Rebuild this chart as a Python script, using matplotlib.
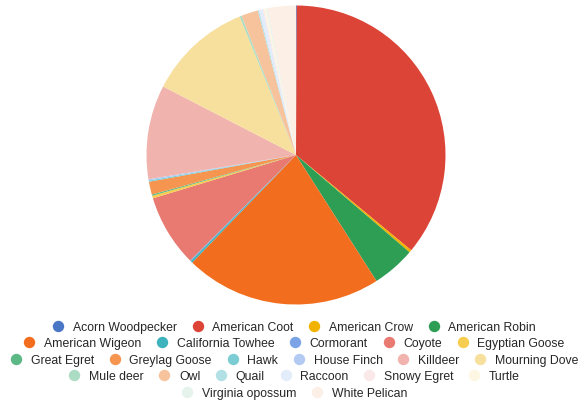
import matplotlib
matplotlib.use("Agg")
import matplotlib.pyplot as plt
from matplotlib.lines import Line2D

plt.rcParams['font.family'] = ['Liberation Sans', 'DejaVu Sans']

categories = ["Acorn Woodpecker", "American Coot", "American Crow", "American Robin",
              "American Wigeon", "California Towhee", "Cormorant", "Coyote",
              "Egyptian Goose", "Great Egret", "Greylag Goose", "Hawk", "House Finch",
              "Killdeer", "Mourning Dove", "Mule deer", "Owl", "Quail", "Raccoon",
              "Snowy Egret", "Turtle", "Virginia opossum", "White Pelican"]
values = [0.3, 129.0, 1.0, 16.8, 76.4, 0.8, 0.3, 28.0, 1.0, 0.5, 5.0, 0.5, 0.5,
          36.5, 40.5, 0.8, 6.5, 0.5, 1.5, 0.5, 0.8, 0.5, 11.0]
colors = ["#4a76c6", "#dc4437", "#f1b200", "#2e9e55", "#f26d1e", "#3fb3bd", "#7ba3e6",
          "#e87a72", "#f7cd4f", "#5cb985", "#f59550", "#7ccdd3", "#b3cbf3", "#f0b3ad",
          "#f7e09d", "#acdcc3", "#f7c39c", "#b3e0e4", "#e3ecfa", "#fbe8e8", "#fdf6e2",
          "#e5f3ec", "#fcefe6"]
legend_rows = [4, 5, 6, 6, 2]

W, H = 582, 402
fig = plt.figure(figsize=(W / 100, H / 100), dpi=100)
cx, cy, r = 296, 156, 149.5
ax = fig.add_axes([(cx - r) / W, (H - cy - r) / H, 2 * r / W, 2 * r / H])
ax.pie(values, colors=colors, startangle=90, counterclock=False,
       wedgeprops=dict(linewidth=0))
ax.set_xlim(-1, 1)
ax.set_ylim(-1, 1)
ax.set_aspect('equal')
ax.axis('off')

row_y = [328, 344.5, 361.5, 377.5, 394]
start = 0
for n, y in zip(legend_rows, row_y):
    handles = [Line2D([], [], linestyle='none', marker='o', markersize=8.2,
                      markerfacecolor=colors[i], markeredgewidth=0)
               for i in range(start, start + n)]
    labels = categories[start:start + n]
    fig.legend(handles, labels, loc='center', bbox_to_anchor=(294 / W, 1 - y / H),
               ncol=n, frameon=False, fontsize=8.8, handlelength=1.0,
               handletextpad=0.7, columnspacing=1.2, borderpad=0, borderaxespad=0,
               labelcolor='#262626')
    start += n

fig.savefig("out.png", dpi=100, facecolor='white')
